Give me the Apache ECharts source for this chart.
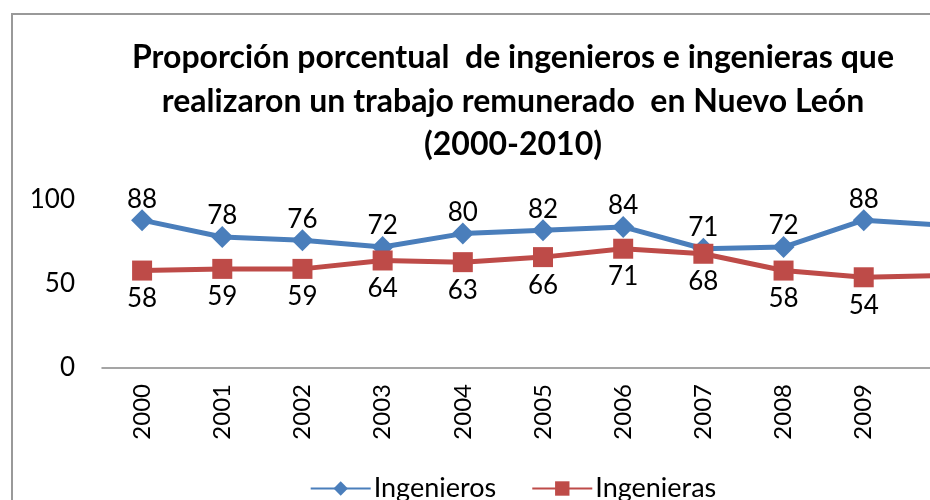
<!DOCTYPE html>
<html>
<head>
<meta charset="utf-8">
<script src="https://cdn.jsdelivr.net/npm/echarts@6/dist/echarts.min.js"></script>
<style>
  html, body { margin: 0; padding: 0; overflow: hidden; background: #fff; width: 930px; height: 500px; }
  #frame { position: absolute; left: 11px; top: 13px; border: 2px solid #999; width: 1000px; height: 520px; }
  #cv { width: 1000px; height: 520px; }
</style>
</head>
<body>
<div id="frame"><div id="cv"></div></div>
<script>
var years = ['2000','2001','2002','2003','2004','2005','2006','2007','2008','2009','2010'];
var ingenieros = [88, 78, 76, 72, 80, 82, 84, 71, 72, 88, 85];
var ingenieras = [58, 59, 59, 64, 63, 66, 71, 68, 58, 54, 55];

var myChart = echarts.init(document.getElementById('cv'));
var fam = 'Lato';

var option = {
    animation: false,
    title: {
        text: 'Proporción porcentual  de ingenieros e ingenieras que\nrealizaron un trabajo remunerado  en Nuevo León\n(2000-2010)',
        left: 'center',
        top: 16,
        textStyle: {
            fontFamily: fam,
            fontWeight: 'bold',
            fontSize: 32,
            lineHeight: 43.5,
            color: '#000'
        }
    },
    legend: {
        data: ['Ingenieros', 'Ingenieras'],
        bottom: 28,
        left: 'center',
        itemWidth: 60,
        itemHeight: 18,
        itemGap: 35,
        textStyle: { fontFamily: fam, fontSize: 27, color: '#000', padding: [0, 0, 0, -2] }
    },
    grid: {
        left: 89,
        width: 882,
        top: 185,
        height: 168
    },
    xAxis: {
        type: 'category',
        data: years,
        boundaryGap: true,
        axisLine: { lineStyle: { color: '#888', width: 1.5 } },
        axisTick: { show: false },
        axisLabel: {
            rotate: 90,
            margin: 16,
            fontFamily: fam,
            fontSize: 24,
            color: '#000'
        }
    },
    yAxis: {
        type: 'value',
        min: 0,
        max: 100,
        interval: 50,
        splitLine: { show: false },
        axisLine: { show: false },
        axisTick: { show: false },
        axisLabel: {
            margin: 27,
            fontFamily: fam,
            fontSize: 26,
            color: '#000'
        }
    },
    series: [
        {
            name: 'Ingenieros',
            type: 'line',
            data: ingenieros,
            symbol: 'diamond',
            symbolSize: 22,
            color: '#4A7EBB',
            lineStyle: { width: 5, color: '#4A7EBB' },
            itemStyle: { color: '#4A7EBB' },
            label: {
                show: true,
                position: 'top',
                distance: -3,
                fontFamily: fam,
                fontSize: 26,
                color: '#000'
            }
        },
        {
            name: 'Ingenieras',
            type: 'line',
            data: ingenieras,
            symbol: 'rect',
            symbolSize: 20,
            color: '#BE4B48',
            lineStyle: { width: 5, color: '#BE4B48' },
            itemStyle: { color: '#BE4B48' },
            label: {
                show: true,
                position: 'bottom',
                distance: 5,
                fontFamily: fam,
                fontSize: 26,
                color: '#000'
            }
        }
    ]
};
myChart.setOption(option);
</script>
</body>
</html>
